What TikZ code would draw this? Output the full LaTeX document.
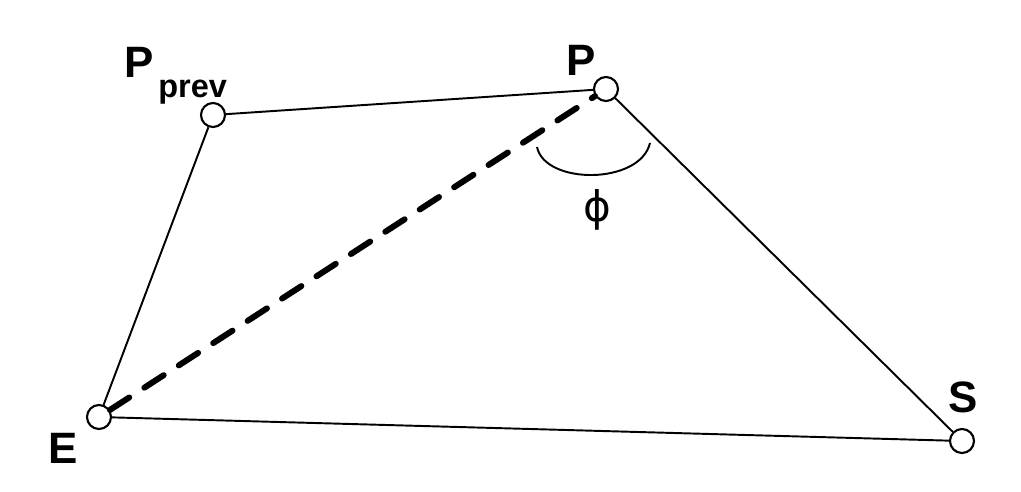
\documentclass[tikz,border=0pt]{standalone}
\usepackage{fontspec}
\setmainfont{Liberation Sans}
\newfontfamily\phifont{DejaVu Sans}
\usetikzlibrary{calc}
\tikzset{
  vrtx/.style={shape=circle,draw,fill=white,line width=1.2pt,inner sep=0pt,minimum size=0.48cm},
  edge/.style={line width=1.1pt},
  diag/.style={line width=3.4pt,line cap=round,dash pattern=on 0.46cm off 0.36cm},
  lbl/.style={inner sep=0pt,anchor=base west,font=\fontsize{25}{30}\selectfont\bfseries},
  sublbl/.style={inner sep=0pt,anchor=base west,font=\fontsize{18.5}{20}\selectfont\bfseries}
}
\newcommand{\vrtx}[3]{\node[vrtx] (#1) at ( #2 , #3 ) {};}
\begin{document}
\begin{tikzpicture}[x=0.02cm,y=-0.02cm]
        \useasboundingbox (0,0) rectangle (1021,491);

        % corners
        \vrtx{Pprev}{213}{115}
        \vrtx{P}{606}{89}
        \vrtx{E}{99}{417}
        \vrtx{S}{962}{441}

        % sides
        \draw[edge] (Pprev) -- (P);
        \draw[edge] (P) -- (S);
        \draw[edge] (S) -- (E);
        \draw[edge] (E) -- (Pprev);
        \draw[diag] (E) -- (P);

        % angle at P
        \draw[edge] (537,147) .. controls (545,185) and (640,185) .. (650,143);
        \node[inner sep=0pt,font=\fontsize{24}{30}\phifont] (phi) at (597,210) {ϕ};

        % labels
        \node[lbl] (lPprev) at (124,77) {P};
        \node[sublbl] (lprev) at (158,97) {prev};
        \node[lbl] (lP) at (566,75) {P};
        \node[lbl] (lE) at (48,463) {E};
        \node[lbl] (lS) at (948,412) {S};
\end{tikzpicture}
\end{document}
